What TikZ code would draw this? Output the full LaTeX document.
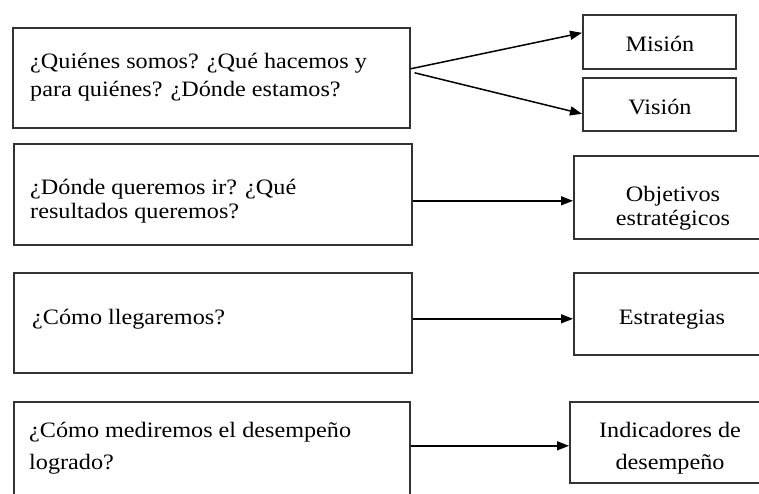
\documentclass[tikz,border=0pt]{standalone}
\usepackage{fontspec}
\setmainfont{Liberation Serif}[FakeStretch=1.1]
\usetikzlibrary{arrows.meta}
\begin{document}
\begin{tikzpicture}[x=1pt,y=-1pt,
  frame/.style={draw=black!80,line width=1.6pt,rectangle,inner sep=0pt,anchor=north west},
  lefttext/.style={inner sep=0pt,anchor=west,align=left,font=\fontsize{22}{28}\selectfont},
  righttext/.style={inner sep=0pt,align=center,font=\fontsize{22}{24}\selectfont},
  arr/.style={draw=black,line width=1.5pt,-{Triangle[length=12pt,width=9pt]}}]
\useasboundingbox (0,0) rectangle (759,493);
\clip (0,0) rectangle (759,493);
% question boxes on the left
\node[frame,minimum width=397pt,minimum height=100pt] (f1) at (12,27) {};
\node[frame,minimum width=398pt,minimum height=101pt] (f2) at (13,143) {};
\node[frame,minimum width=398pt,minimum height=100pt] (f3) at (13,272) {};
\node[frame,minimum width=396pt,minimum height=119pt] (f4) at (13,401) {};
% answer boxes on the right
\node[frame,minimum width=153pt,minimum height=54pt] (fM) at (582,14) {};
\node[frame,minimum width=153pt,minimum height=53pt] (fV) at (582,77) {};
\node[frame,minimum width=202pt,minimum height=83pt] (fO) at (573,155) {};
\node[frame,minimum width=202pt,minimum height=82pt] (fE) at (573,272) {};
\node[frame,minimum width=206pt,minimum height=81pt] (fI) at (569,401) {};
% texts
\node[lefttext] (t1) at (30,77) {¿Quiénes somos? ¿Qué hacemos y\\para quiénes? ¿Dónde estamos?};
\node[lefttext] (t2) at (30,201) {¿Dónde queremos ir? ¿Qué\\[-4pt]resultados queremos?};
\node[lefttext] (t3) at (32,319) {¿Cómo llegaremos?};
\node[lefttext] (t4) at (29,448) {¿Cómo mediremos el desempeño\\[4pt]logrado?};
\node[righttext] (tM) at (660,44) {Misión};
\node[righttext] (tV) at (660,107) {Visión};
\node[righttext] (tO) at (673,208) {Objetivos\\estratégicos};
\node[righttext] (tE) at (672,320) {Estrategias};
\node[righttext,font=\fontsize{22}{32}\selectfont] (tI) at (670,448) {Indicadores de\\desempeño};
% connectors
\draw[arr] ([yshift=9pt]f1.east) -- ([yshift=9pt]fM.west);
\draw[arr] ([xshift=4pt,yshift=5pt]f1.east) -- ([yshift=-9.5pt]fV.west);
\draw[arr] ([yshift=-6.5pt]f2.east) -- ([yshift=-3.5pt]fO.west);
\draw[arr] ([yshift=4pt]f3.east) -- ([yshift=-5pt]fE.west);
\draw[arr] ([yshift=15.5pt]f4.east) -- ([yshift=-3.5pt]fI.west);
\end{tikzpicture}
\end{document}
